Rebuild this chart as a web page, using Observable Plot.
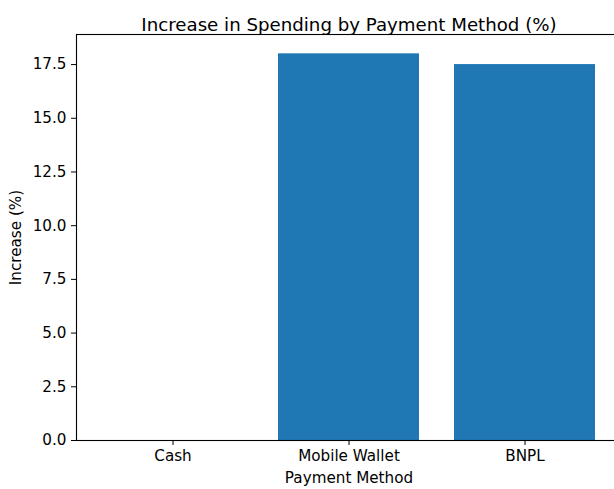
<!DOCTYPE html>
<html>
<head>
<meta charset="utf-8">
<script src="https://cdn.jsdelivr.net/npm/d3@7"></script>
<script src="https://cdn.jsdelivr.net/npm/@observablehq/plot@0.6"></script>
<style>
  html, body { margin: 0; padding: 0; background: white; overflow: hidden; }
  #chart svg { font-family: "DejaVu Sans", sans-serif; }
</style>
</head>
<body>
<div id="chart"></div>
<script>
const categories = ["Cash", "Mobile Wallet", "BNPL"];
const increases = [0, 18, 17.5];
const yTicks = [0, 2.5, 5, 7.5, 10, 12.5, 15, 17.5];
const title = "Increase in Spending by Payment Method (%)";
const xLabel = "Payment Method";
const yLabel = "Increase (%)";

const data = categories.map((c, i) => ({method: c, value: increases[i]}));

const chart = Plot.plot({
  width: 614,
  height: 489,
  marginTop: 34,
  marginBottom: 49,
  marginLeft: 76,
  marginRight: -7,
  style: {fontFamily: "DejaVu Sans, sans-serif", fontSize: "15.2px", color: "#000", background: "white"},
  x: {domain: categories, paddingInner: 0.2, paddingOuter: 0.144},
  y: {domain: [0, 18.9]},
  marks: [
    Plot.barY(data, {x: "method", y: "value", fill: "#1f77b4"}),
    Plot.frame({stroke: "#000", strokeWidth: 1.1}),
    Plot.axisX({tickSize: 5, tickPadding: 5, fontSize: 15.2, label: xLabel, labelAnchor: "center", labelArrow: "none", labelOffset: 42}),
    Plot.axisY(yTicks, {tickSize: 5, tickPadding: 5, fontSize: 15.2, tickFormat: d3.format(".1f"), label: yLabel, labelAnchor: "center", labelArrow: "none", labelOffset: 66}),
    Plot.text([title], {frameAnchor: "top", dy: -16, fontSize: 18.2, fill: "#000"})
  ]
});
document.getElementById("chart").appendChild(chart);
</script>
</body>
</html>
